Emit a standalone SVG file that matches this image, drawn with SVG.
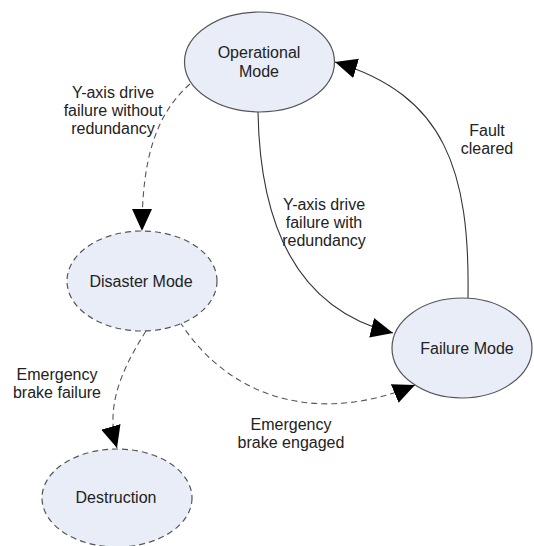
<svg xmlns="http://www.w3.org/2000/svg" width="534" height="546" viewBox="0 0 534 546">
<style>
.node{fill:#e8edf8;stroke:#555;stroke-width:1.2}
.dash{stroke-dasharray:6,4}
.edge{fill:none;stroke:#333;stroke-width:1.1}
.edge.d{stroke:#555;stroke-dasharray:6,4}
text{font-family:"Liberation Sans",Arial,sans-serif;font-size:16px;fill:#222;text-anchor:middle}
</style>
<defs>
<marker id="ah" markerUnits="userSpaceOnUse" markerWidth="24" markerHeight="22" refX="22" refY="11" orient="auto">
<path d="M0,1 L22,11 L0,21 Z" fill="#000"/>
</marker>
</defs>
<rect width="534" height="546" fill="#fff"/>
<g id="connectors">
<path class="edge d" d="M190,84 C155,115 142,160 142,231" marker-end="url(#ah)"/>
<path class="edge" d="M258,112 C260,230 300,310 393,333" marker-end="url(#ah)"/>
<path class="edge" d="M468,298 C470,170 445,95 335,62" marker-end="url(#ah)"/>
<path class="edge d" d="M180,322 C230,400 320,425 415,385" marker-end="url(#ah)"/>
<path class="edge d" d="M146,331 C118,375 106,410 117,448" marker-end="url(#ah)"/>
</g>
<g id="edge-labels">
<text x="113" y="98">Y-axis drive</text>
<text x="113" y="116">failure without</text>
<text x="113" y="134">redundancy</text>
<text x="324" y="210">Y-axis drive</text>
<text x="324" y="228">failure with</text>
<text x="324" y="246">redundancy</text>
<text x="487" y="136">Fault</text>
<text x="487" y="154">cleared</text>
<text x="57" y="380">Emergency</text>
<text x="57" y="398">brake failure</text>
<text x="291" y="430">Emergency</text>
<text x="291" y="448">brake engaged</text>
</g>
<g id="operational">
<ellipse class="node" cx="259.5" cy="62" rx="75" ry="50"/>
<text x="259" y="58">Operational</text>
<text x="259" y="77">Mode</text>
</g>
<g id="disaster">
<ellipse class="node dash" cx="142" cy="281" rx="75" ry="50"/>
<text x="141" y="287">Disaster Mode</text>
</g>
<g id="failure">
<ellipse class="node" cx="462" cy="348" rx="70" ry="50"/>
<text x="467" y="354">Failure Mode</text>
</g>
<g id="destruction">
<ellipse class="node dash" cx="117" cy="498" rx="75" ry="49"/>
<text x="116" y="503">Destruction</text>
</g>
</svg>
